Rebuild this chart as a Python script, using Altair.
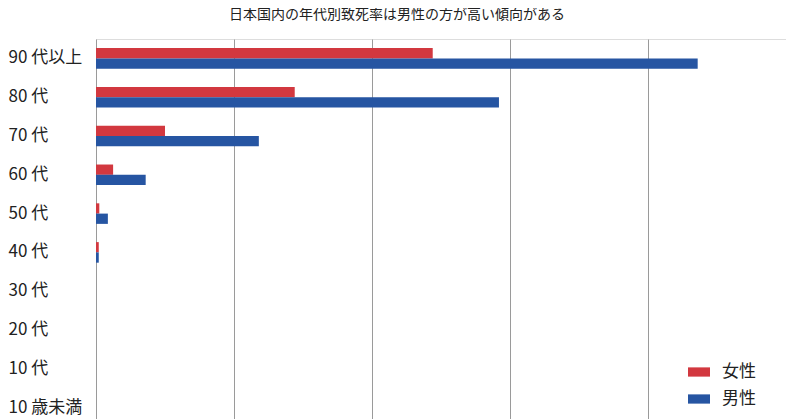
import altair as alt
import pandas as pd

ages = ["90 代以上", "80 代", "70 代", "60 代", "50 代", "40 代", "30 代", "20 代", "10 代", "10 歳未満"]
female = [12.2, 7.2, 2.5, 0.62, 0.12, 0.1, 0, 0, 0, 0]
male = [21.8, 14.6, 5.9, 1.8, 0.43, 0.1, 0, 0, 0, 0]
series = ["女性", "男性"]
colors = ["#d2383f", "#2655a2"]

rows = []
for a, f, m in zip(ages, female, male):
    rows.append({"age": a, "sex": series[0], "value": f})
    rows.append({"age": a, "sex": series[1], "value": m})
df = pd.DataFrame(rows)

FONT = "Noto Sans CJK JP"

chart = alt.Chart(df).mark_bar().encode(
    y=alt.Y("age:N", sort=ages, title=None,
            scale=alt.Scale(paddingInner=0.47, paddingOuter=0.235),
            axis=alt.Axis(labelAlign="left", labelPadding=88, ticks=False, domain=False,
                          labelFontSize=17, labelColor="#222", labelFont=FONT, grid=False)),
    yOffset=alt.YOffset("sex:N", sort=series),
    x=alt.X("value:Q", title=None, scale=alt.Scale(domain=[0, 25], nice=False),
            axis=alt.Axis(values=[0, 5, 10, 15, 20, 25], labels=False, ticks=False, domain=False,
                          grid=True, gridColor="#9a9a9a", gridWidth=1)),
    color=alt.Color("sex:N", sort=series, scale=alt.Scale(domain=series, range=colors),
                    legend=alt.Legend(title=None, orient="none", legendX=592, legendY=322,
                                      symbolType="M-1,-0.42L1,-0.42L1,0.42L-1,0.42Z",
                                      symbolSize=484, symbolStrokeWidth=0,
                                      labelFontSize=17, labelFont=FONT, labelColor="#222",
                                      labelOffset=12, rowPadding=8, padding=0)),
).properties(
    width=690, height=388,
    title=alt.TitleParams("日本国内の年代別致死率は男性の方が高い傾向がある", fontSize=14, font=FONT,
                          fontWeight="normal", color="#222", anchor="middle", frame="bounds", offset=17),
).configure_view(stroke="#8a8a8a", strokeWidth=1.5).configure(padding=0)

chart.save("out.html", embed_options={"renderer": "svg", "actions": False})
